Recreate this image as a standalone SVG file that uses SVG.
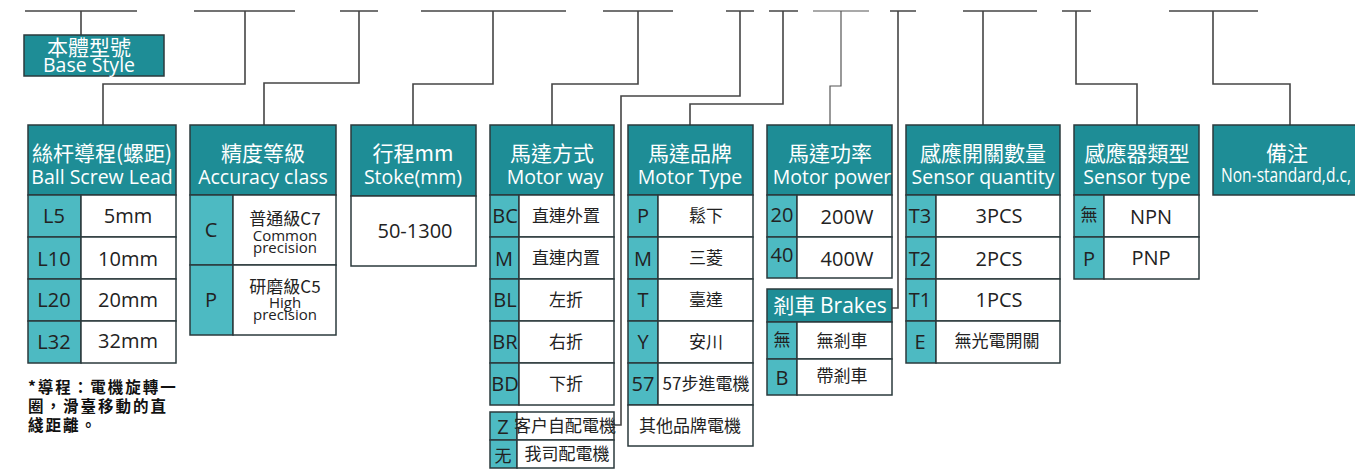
<svg xmlns="http://www.w3.org/2000/svg" width="1355" height="475" viewBox="0 0 1355 475">
<style>
.hd{fill:#1e8d96;stroke:#2b3a3d;stroke-width:1.5}
.cd{fill:#4dbac2;stroke:#2b3a3d;stroke-width:1.5}
.vl{fill:#ffffff;stroke:#2b3a3d;stroke-width:1.5}
.hc{fill:#ffffff;font-family:"Noto Sans CJK TC","Noto Sans",sans-serif;font-size:21px;text-anchor:middle}
.he{fill:#ffffff;font-family:"Open Sans","Noto Sans",sans-serif;font-size:19.5px;text-anchor:middle}
.c{fill:#222;font-family:"Open Sans","Noto Sans",sans-serif;font-size:20px;text-anchor:middle}
.v{fill:#222;font-family:"Open Sans","Noto Sans",sans-serif;font-size:20px;text-anchor:middle}
.z{fill:#222;font-family:"Noto Sans CJK TC",sans-serif;font-size:17px;text-anchor:middle}
.s{fill:#222;font-family:"Open Sans","Noto Sans",sans-serif;font-size:15px;text-anchor:middle}
.ln{fill:none;stroke:#454545;stroke-width:1.6}
.note{fill:#111;font-family:"Noto Sans CJK TC",sans-serif;font-size:15.5px;font-weight:bold;letter-spacing:2px}
</style>
<rect width="1355" height="475" fill="#ffffff"/>
<g id="connectors" class="ln">
<path d="M25,11H137M81,11V35"/>
<path d="M194,11H295M245,11V84H103V125"/>
<path d="M340,11H378M359,11V83H264V125"/>
<path d="M421,11H566M493,11V84H413V125"/>
<path d="M603,11H673M638,11V84H552V125"/>
<path d="M726,11H754M740,11V96H621V425H615"/>
<path d="M769,11H798M783,11V104H690V125"/>
<path d="M813,11H869M841,11V86H830V125" stroke-width="1.2" stroke="#555"/>
<path d="M890,11H916M898,11V308H892"/>
<path d="M963,11H1037M983,11V125"/>
<path d="M1062,11H1091M1076,11V84H1137V125"/>
<path d="M1169,11H1258M1213,11V84H1290V125"/>
</g>
<g id="base-style">
<rect class="hd" x="24" y="35" width="140" height="41"/>
<text class="hc" x="89" y="55" font-size="19px">本體型號</text>
<text class="he" x="89" y="72" font-size="16.5px">Base Style</text>
</g>
<g id="ball-screw-lead">
<rect class="hd" x="28" y="125" width="148" height="70"/>
<text class="hc" x="102" y="161">絲杆導程(螺距)</text>
<text class="he" x="102" y="184" font-size="17.5px">Ball Screw Lead</text>
<rect class="cd" x="28" y="195" width="53" height="42"/><rect class="vl" x="81" y="195" width="95" height="42"/>
<rect class="cd" x="28" y="237" width="53" height="42"/><rect class="vl" x="81" y="237" width="95" height="42"/>
<rect class="cd" x="28" y="279" width="53" height="42"/><rect class="vl" x="81" y="279" width="95" height="42"/>
<rect class="cd" x="28" y="321" width="53" height="42"/><rect class="vl" x="81" y="321" width="95" height="42"/>
<text class="c" x="54" y="223">L5</text><text class="v" x="128" y="223">5mm</text>
<text class="c" x="54" y="266">L10</text><text class="v" x="128" y="266">10mm</text>
<text class="c" x="54" y="307">L20</text><text class="v" x="128" y="307">20mm</text>
<text class="c" x="54" y="349">L32</text><text class="v" x="128" y="348">32mm</text>
</g>
<g id="lead-note">
<text class="note" x="28" y="393">*導程：電機旋轉一</text>
<text class="note" x="28" y="412">圈，滑臺移動的直</text>
<text class="note" x="28" y="431">綫距離。</text>
</g>
<g id="accuracy-class">
<rect class="hd" x="190" y="125" width="146" height="70"/>
<text class="hc" x="263" y="161">精度等級</text>
<text class="he" x="263" y="184">Accuracy class</text>
<rect class="cd" x="190" y="195" width="43" height="70"/><rect class="vl" x="233" y="195" width="103" height="70"/>
<rect class="cd" x="190" y="265" width="43" height="70"/><rect class="vl" x="233" y="265" width="103" height="70"/>
<text class="c" x="211" y="237">C</text>
<text class="z" x="285" y="225" font-size="16.5px">普通級C7</text>
<text class="s" x="285" y="241">Common</text>
<text class="s" x="285" y="253">precision</text>
<text class="c" x="211" y="307">P</text>
<text class="z" x="285" y="293" font-size="16.5px">研磨級C5</text>
<text class="s" x="285" y="308">High</text>
<text class="s" x="285" y="320">precision</text>
</g>
<g id="stroke">
<rect class="hd" x="351" y="125" width="125" height="71"/>
<text class="hc" x="413" y="161">行程mm</text>
<text class="he" x="413" y="184">Stoke(mm)</text>
<rect class="vl" x="351" y="196" width="125" height="70"/>
<text class="v" x="415" y="238" font-size="20.5px">50-1300</text>
</g>
<g id="motor-way">
<rect class="hd" x="490" y="125" width="124" height="70"/>
<text class="hc" x="552" y="161">馬達方式</text>
<text class="he" x="555" y="184">Motor way</text>
<rect class="cd" x="490" y="195" width="29" height="42"/><rect class="vl" x="519" y="195" width="95" height="42"/>
<rect class="cd" x="490" y="237" width="29" height="42"/><rect class="vl" x="519" y="237" width="95" height="42"/>
<rect class="cd" x="490" y="279" width="29" height="42"/><rect class="vl" x="519" y="279" width="95" height="42"/>
<rect class="cd" x="490" y="321" width="29" height="42"/><rect class="vl" x="519" y="321" width="95" height="42"/>
<rect class="cd" x="490" y="363" width="29" height="42"/><rect class="vl" x="519" y="363" width="95" height="42"/>
<text class="c" x="505" y="223">BC</text><text class="z" x="566" y="222">直連外置</text>
<text class="c" x="504" y="266">M</text><text class="z" x="566" y="264">直連内置</text>
<text class="c" x="505" y="307">BL</text><text class="z" x="566" y="306">左折</text>
<text class="c" x="505" y="349">BR</text><text class="z" x="566" y="348">右折</text>
<text class="c" x="505" y="391">BD</text><text class="z" x="566" y="390">下折</text>
</g>
<g id="motor-supply">
<rect class="cd" x="490" y="412" width="27" height="28"/><rect class="vl" x="517" y="412" width="97" height="28"/>
<rect class="cd" x="490" y="440" width="27" height="28"/><rect class="vl" x="517" y="440" width="97" height="28"/>
<text class="c" x="503" y="434" font-size="21px">Z</text><text class="z" x="565" y="432" font-size="15.5px">客户自配電機</text>
<text class="z" x="503" y="462" font-size="19px">无</text><text class="z" x="567" y="460" font-size="15.5px">我司配電機</text>
</g>
<g id="motor-type">
<rect class="hd" x="628" y="125" width="125" height="70"/>
<text class="hc" x="690" y="161">馬達品牌</text>
<text class="he" x="690" y="184">Motor Type</text>
<rect class="cd" x="628" y="195" width="30" height="42"/><rect class="vl" x="658" y="195" width="95" height="42"/>
<rect class="cd" x="628" y="237" width="30" height="42"/><rect class="vl" x="658" y="237" width="95" height="42"/>
<rect class="cd" x="628" y="279" width="30" height="42"/><rect class="vl" x="658" y="279" width="95" height="42"/>
<rect class="cd" x="628" y="321" width="30" height="42"/><rect class="vl" x="658" y="321" width="95" height="42"/>
<rect class="cd" x="628" y="363" width="30" height="42"/><rect class="vl" x="658" y="363" width="95" height="42"/>
<rect class="vl" x="628" y="405" width="125" height="41"/>
<text class="c" x="643" y="223">P</text><text class="z" x="706" y="222">鬆下</text>
<text class="c" x="643" y="266">M</text><text class="z" x="706" y="264">三菱</text>
<text class="c" x="643" y="307">T</text><text class="z" x="706" y="306">臺達</text>
<text class="c" x="643" y="349">Y</text><text class="z" x="706" y="348">安川</text>
<text class="c" x="643" y="391">57</text><text class="z" x="706" y="390" font-size="15.5px">57步進電機</text>
<text class="z" x="690" y="432" font-size="16px">其他品牌電機</text>
</g>
<g id="motor-power">
<rect class="hd" x="767" y="125" width="125" height="70"/>
<text class="hc" x="830" y="161">馬達功率</text>
<text class="he" x="832" y="184">Motor power</text>
<rect class="cd" x="767" y="195" width="30" height="42"/><rect class="vl" x="797" y="195" width="95" height="42"/>
<rect class="cd" x="767" y="237" width="30" height="41"/><rect class="vl" x="797" y="237" width="95" height="41"/>
<text class="c" x="782" y="222">20</text><text class="v" x="847" y="224">200W</text>
<text class="c" x="782" y="262">40</text><text class="v" x="847" y="266">400W</text>
</g>
<g id="brakes">
<rect class="hd" x="767" y="289" width="125" height="33"/>
<text class="hc" x="830" y="313">剎車 <tspan font-family="Open Sans,sans-serif">Brakes</tspan></text>
<rect class="cd" x="767" y="322" width="30" height="37"/><rect class="vl" x="797" y="322" width="95" height="37"/>
<rect class="cd" x="767" y="359" width="30" height="36"/><rect class="vl" x="797" y="359" width="95" height="36"/>
<text class="z" x="782" y="346" font-size="13px" fill="#2a7f86">無</text><text class="z" x="842" y="347">無剎車</text>
<text class="c" x="782" y="385">B</text><text class="z" x="842" y="382">帶剎車</text>
</g>
<g id="sensor-quantity">
<rect class="hd" x="906" y="125" width="154" height="70"/>
<text class="hc" x="983" y="161">感應開關數量</text>
<text class="he" x="983" y="184">Sensor quantity</text>
<rect class="cd" x="906" y="195" width="30" height="42"/><rect class="vl" x="936" y="195" width="124" height="42"/>
<rect class="cd" x="906" y="237" width="30" height="42"/><rect class="vl" x="936" y="237" width="124" height="42"/>
<rect class="cd" x="906" y="279" width="30" height="42"/><rect class="vl" x="936" y="279" width="124" height="42"/>
<rect class="cd" x="906" y="321" width="30" height="42"/><rect class="vl" x="936" y="321" width="124" height="42"/>
<text class="c" x="920" y="223">T3</text><text class="v" x="999" y="223">3PCS</text>
<text class="c" x="920" y="266">T2</text><text class="v" x="999" y="266">2PCS</text>
<text class="c" x="920" y="307">T1</text><text class="v" x="999" y="307">1PCS</text>
<text class="c" x="920" y="349">E</text><text class="z" x="997" y="347">無光電開關</text>
</g>
<g id="sensor-type">
<rect class="hd" x="1074" y="125" width="125" height="70"/>
<text class="hc" x="1137" y="161">感應器類型</text>
<text class="he" x="1137" y="184">Sensor type</text>
<rect class="cd" x="1074" y="195" width="30" height="42"/><rect class="vl" x="1104" y="195" width="95" height="42"/>
<rect class="cd" x="1074" y="237" width="30" height="42"/><rect class="vl" x="1104" y="237" width="95" height="42"/>
<text class="z" x="1089" y="221" font-size="13px" fill="#2a7f86">無</text><text class="v" x="1151" y="224">NPN</text>
<text class="c" x="1089" y="266">P</text><text class="v" x="1151" y="265">PNP</text>
</g>
<g id="remarks">
<rect class="hd" x="1213" y="125" width="160" height="70"/>
<text class="hc" x="1287" y="161">備注</text>
<text class="he" x="1286" y="182" font-size="16px" textLength="130" lengthAdjust="spacingAndGlyphs">Non-standard,d.c,</text>
</g>
</svg>
